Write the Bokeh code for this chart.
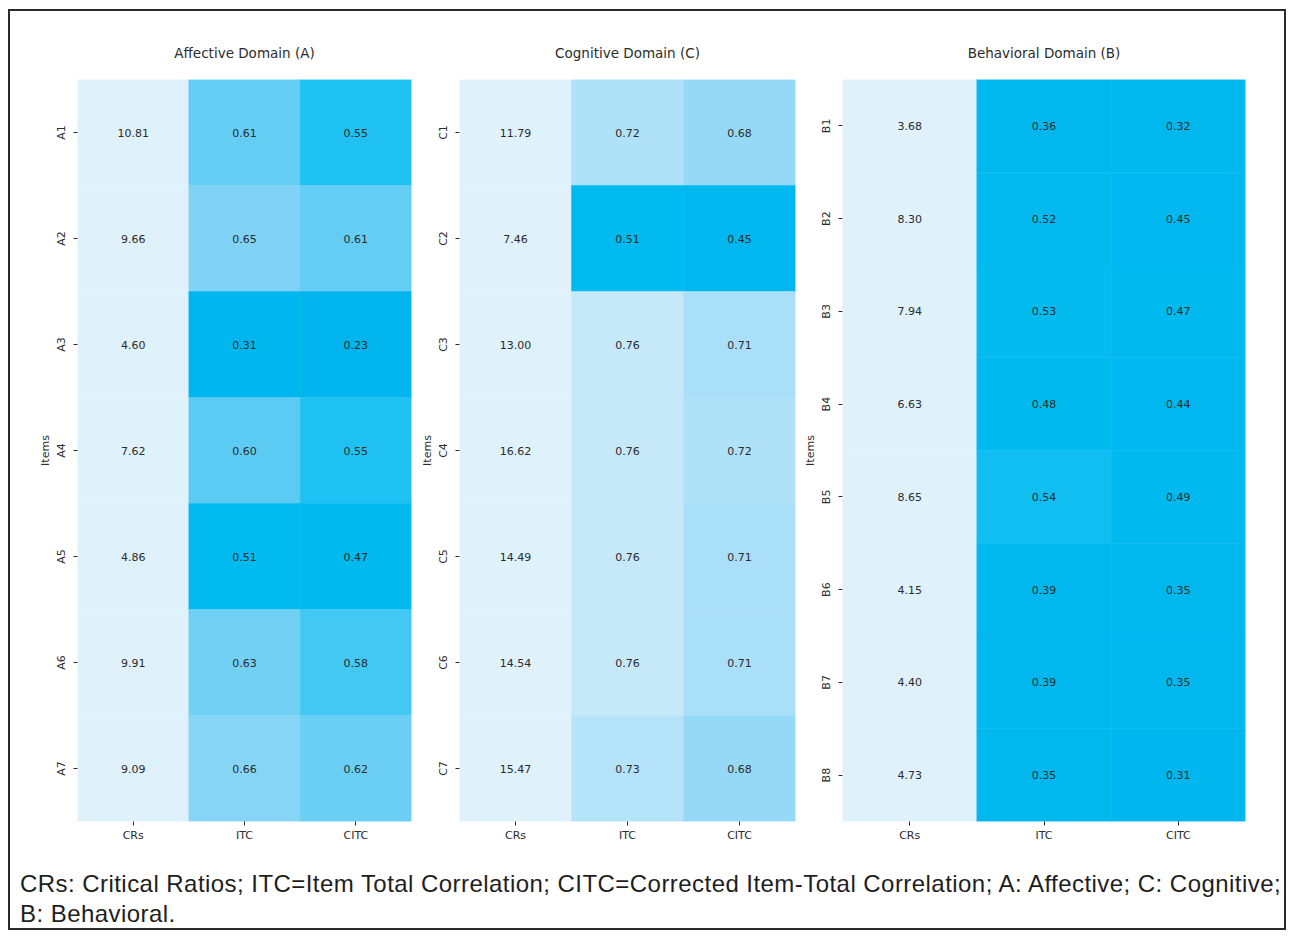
import numpy as np
from bokeh.plotting import figure
from bokeh.models import ColumnDataSource, FactorRange, LinearColorMapper, Div
from bokeh.layouts import row, column
from bokeh.transform import transform
from bokeh.core.properties import value
from bokeh.embed import file_html
from bokeh.resources import INLINE

# ---------------- data ----------------
metrics = ["CRs", "ITC", "CITC"]

affective_items = ["A1", "A2", "A3", "A4", "A5", "A6", "A7"]
affective_crs = [10.81, 9.66, 4.60, 7.62, 4.86, 9.91, 9.09]
affective_itc = [0.61, 0.65, 0.31, 0.60, 0.51, 0.63, 0.66]
affective_citc = [0.55, 0.61, 0.23, 0.55, 0.47, 0.58, 0.62]

cognitive_items = ["C1", "C2", "C3", "C4", "C5", "C6", "C7"]
cognitive_crs = [11.79, 7.46, 13.00, 16.62, 14.49, 14.54, 15.47]
cognitive_itc = [0.72, 0.51, 0.76, 0.76, 0.76, 0.76, 0.73]
cognitive_citc = [0.68, 0.45, 0.71, 0.72, 0.71, 0.71, 0.68]

behavioral_items = ["B1", "B2", "B3", "B4", "B5", "B6", "B7", "B8"]
behavioral_crs = [3.68, 8.30, 7.94, 6.63, 8.65, 4.15, 4.40, 4.73]
behavioral_itc = [0.36, 0.52, 0.53, 0.48, 0.54, 0.39, 0.39, 0.35]
behavioral_citc = [0.32, 0.45, 0.47, 0.44, 0.49, 0.35, 0.35, 0.31]

titles = ["Affective Domain (A)", "Cognitive Domain (C)", "Behavioral Domain (B)"]
caption_text = ("CRs: Critical Ratios; ITC=Item Total Correlation; CITC=Corrected Item-Total Correlation; "
                "A: Affective; C: Cognitive;<br>B: Behavioral.")

# ---------------- colour map ----------------
anchor_v = [0.20, 0.50, 0.53, 0.55, 0.60, 0.65, 0.70, 0.76, 0.85]
anchor_c = ["#00b5ed", "#00b9ef", "#04bbf0", "#1fc1f2", "#5ccbf4", "#7fd3f6", "#a3ddf8", "#c6e9fa", "#dff1fb"]
LOW, HIGH = anchor_v[0], anchor_v[-1]


def hex2rgb(h):
    return [int(h[i:i + 2], 16) for i in (1, 3, 5)]


rgb = np.array([hex2rgb(c) for c in anchor_c], dtype=float)
grid = np.linspace(LOW, HIGH, 256)
palette = []
for g in grid:
    r = np.interp(g, anchor_v, rgb[:, 0])
    gg = np.interp(g, anchor_v, rgb[:, 1])
    b = np.interp(g, anchor_v, rgb[:, 2])
    palette.append("#%02x%02x%02x" % (int(round(r)), int(round(gg)), int(round(b))))

mapper = LinearColorMapper(palette=palette, low=LOW, high=HIGH)

FONT = "DejaVu Sans"
TXT = "#2b2b2b"


def make_panel(title, items, crs, itc, citc, width, left, right):
    xs, ys, vals, labels = [], [], [], []
    for m, arr in zip(metrics, [crs, itc, citc]):
        for it, v in zip(items, arr):
            xs.append(m)
            ys.append(it)
            vals.append(v)
            labels.append("%.2f" % v)
    src = ColumnDataSource(dict(x=xs, y=ys, v=vals, label=labels))
    p = figure(width=width, height=839,
               x_range=FactorRange(*metrics),
               y_range=FactorRange(*list(reversed(items))),
               output_backend="svg", toolbar_location=None,
               min_border_left=left, min_border_right=right,
               min_border_top=68, min_border_bottom=29)
    p.rect(x="x", y="y", width=1, height=1, source=src,
           fill_color=transform("v", mapper), line_color=transform("v", mapper), line_width=0.5)
    p.text(x="x", y="y", text="label", source=src, text_align="center", text_baseline="middle",
           text_font=value(FONT), text_font_size="11px", text_color=TXT)
    p.title.text = title
    p.title.align = "center"
    p.title.text_font = FONT
    p.title.text_font_size = "13.5px"
    p.title.text_font_style = "normal"
    p.title.text_color = TXT
    p.title.standoff = 37
    p.outline_line_color = None
    p.grid.grid_line_color = None
    p.background_fill_color = "white"
    p.border_fill_color = "white"
    for ax in (p.xaxis[0], p.yaxis[0]):
        ax.axis_line_color = None
        ax.major_tick_line_color = TXT
        ax.major_tick_out = 4
        ax.major_tick_in = 0
        ax.minor_tick_line_color = None
        ax.major_label_text_font = FONT
        ax.major_label_text_font_size = "11px"
        ax.major_label_text_color = TXT
        ax.major_label_standoff = 3
    p.yaxis.major_label_orientation = "vertical"
    p.yaxis.major_label_standoff = 6
    p.yaxis.axis_label = "Items"
    p.yaxis.axis_label_text_font = FONT
    p.yaxis.axis_label_text_font_size = "11px"
    p.yaxis.axis_label_text_font_style = "normal"
    p.yaxis.axis_label_text_color = TXT
    p.yaxis.axis_label_standoff = 0
    return p


f1 = make_panel(titles[0], affective_items, affective_crs, affective_itc, affective_citc, 407, 67, 6)
f2 = make_panel(titles[1], cognitive_items, cognitive_crs, cognitive_itc, cognitive_citc, 383, 42, 5)
f3 = make_panel(titles[2], behavioral_items, behavioral_crs, behavioral_itc, behavioral_citc, 488, 42, 43)

frame_html = ('<div style="position: fixed; left: 8px; top: 9px; width: 1278px; height: 921px; '
              'border: 2px solid #2b2b2b; pointer-events: none;"></div>')
caption = Div(text=frame_html +
              '<div style="font-family: \'Liberation Sans\', Arial, sans-serif; font-size: 24px; '
              'letter-spacing: 0.45px; color: #1e1e1e; line-height: 30px; padding: 14px 0 0 5px; '
              'white-space: nowrap;">' + caption_text + '</div>',
              width=1278, height=82)

layout = column(row(f1, f2, f3), caption, margin=(11, 0, 0, 10))

with open("out.html", "w") as fh:
    fh.write(file_html(layout, INLINE))
